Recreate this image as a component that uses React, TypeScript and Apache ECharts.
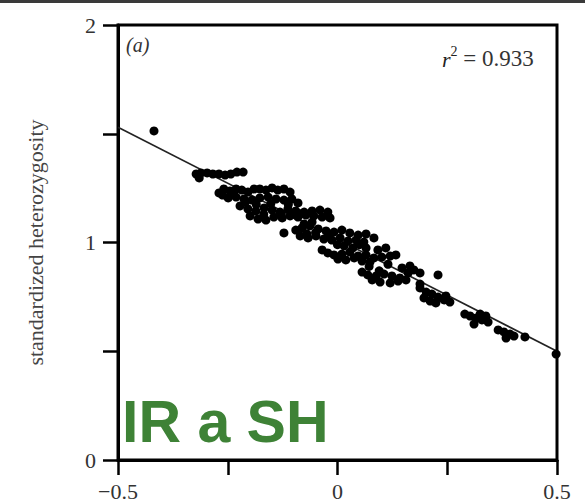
import React, { useEffect, useRef } from "react";
import * as echarts from "echarts";

const xTicks = [-0.5, -0.25, 0, 0.25, 0.5];
const xTickLabels = ["\u22120.5", "", "0", "", "0.5"];
const yTickLabels = ["0", "", "1", "", "2"];

const pointsX = [
  -0.418,
  -0.322, -0.311, -0.297, -0.284, -0.27, -0.256, -0.243, -0.229, -0.215, -0.315,
  -0.27, -0.259, -0.245, -0.231, -0.218, -0.204, -0.19, -0.177, -0.163, -0.149, -0.136, -0.122, -0.108,
  -0.249, -0.231, -0.213, -0.195, -0.177, -0.158, -0.14, -0.122, -0.104, -0.09,
  -0.222, -0.204, -0.186, -0.167, -0.149, -0.131, -0.113, -0.095, -0.076, -0.058, -0.04, -0.022,
  -0.199, -0.181, -0.163, -0.145, -0.126, -0.108, -0.09, -0.072, -0.054, -0.035, -0.017,
  -0.122,
  -0.095, -0.081, -0.063, -0.044, -0.026, -0.008, 0.01, 0.028, 0.047, 0.065, 0.083,
  -0.085, -0.067, -0.049, -0.031, -0.013, 0.006, 0.024, 0.042, 0.06, -0.076, -0.058,
  -0.035, -0.022, -0.008, 0.01, 0.028, 0.047, 0.065, 0.083, 0.101, 0.12, 0.133,
  0.001, 0.019, 0.038, 0.056, 0.074, 0.092, 0.11, 0.065,
  0.056, 0.069, 0.088, 0.106, 0.124, 0.142, 0.161, 0.174, 0.188,
  0.079, 0.097, 0.12, 0.138, 0.156, 0.147, 0.165,
  0.229,
  0.188, 0.202, 0.215, 0.229, 0.243, 0.256, 0.197, 0.211, 0.224, 0.247, 0.188,
  0.29, 0.302, 0.316, 0.329, 0.343, 0.325, 0.311, 0.338,
  0.366, 0.379, 0.393, 0.402, 0.384,
  0.427, 0.498,
  -0.262, -0.238, -0.21, -0.185, -0.168, -0.152, -0.128, -0.112, -0.1, -0.083,
  -0.07, -0.05, -0.02, 0.0, 0.015, 0.035, 0.05, 0.072, 0.095, 0.115,
];

const pointsY = [
  1.513,
  1.315, 1.32, 1.32, 1.315, 1.315, 1.31, 1.315, 1.324, 1.324, 1.297,
  1.228, 1.246, 1.237, 1.246, 1.241, 1.232, 1.246, 1.246, 1.241, 1.251, 1.241, 1.246, 1.232,
  1.205, 1.209, 1.2, 1.195, 1.205, 1.209, 1.2, 1.195, 1.2, 1.182,
  1.168, 1.154, 1.145, 1.159, 1.149, 1.14, 1.154, 1.145, 1.14, 1.145, 1.149, 1.14,
  1.122, 1.108, 1.103, 1.117, 1.113, 1.122, 1.117, 1.126, 1.122, 1.117, 1.113,
  1.044,
  1.057, 1.067, 1.076, 1.062, 1.053, 1.048, 1.057, 1.044, 1.034, 1.039, 1.021,
  1.03, 1.021, 1.03, 1.016, 1.011, 1.021, 1.007, 1.011, 1.002, 1.085, 1.094,
  0.966, 0.952, 0.943, 0.947, 0.956, 0.938, 0.943, 0.929, 0.933, 0.938, 0.943,
  0.924, 0.92, 0.929, 0.915, 0.91, 0.966, 0.975, 0.975,
  0.864, 0.851, 0.846, 0.855, 0.846, 0.837, 0.86, 0.874, 0.86,
  0.828, 0.818, 0.814, 0.823, 0.828, 0.883, 0.892,
  0.851,
  0.791, 0.772, 0.763, 0.749, 0.736, 0.726, 0.745, 0.731, 0.722, 0.754, 0.809,
  0.671, 0.662, 0.653, 0.644, 0.634, 0.671, 0.625, 0.662,
  0.598, 0.589, 0.579, 0.57, 0.561,
  0.566, 0.487,
  1.218, 1.222, 1.185, 1.175, 1.13, 1.178, 1.13, 1.175, 1.13, 1.132,
  1.04, 1.045, 1.035, 0.99, 0.985, 0.975, 0.99, 0.89, 0.87, 0.9,
];

const fitX = [-0.5, 0.5];
const fitY = [1.53, 0.5];

const SERIF = "'Liberation Serif', 'DejaVu Serif', serif";

export default function App() {
  const ref = useRef<HTMLDivElement>(null);

  useEffect(() => {
    if (!ref.current) return;
    const chart = echarts.init(ref.current, null, { renderer: "svg" });
    const scatterData = pointsX.map((x, i) => [x, pointsY[i]]);
    const lineData = fitX.map((x, i) => [x, fitY[i]]);
    const xLabel = (v: number) => {
      const idx = xTicks.findIndex((t) => Math.abs(t - v) < 1e-9);
      return idx >= 0 ? xTickLabels[idx] : "";
    };
    const yLabel = (v: number) => {
      const idx = Math.round(v * 2);
      return Math.abs(v * 2 - idx) < 1e-9 && idx >= 0 && idx < yTickLabels.length ? yTickLabels[idx] : "";
    };
    chart.setOption({
      animation: false,
      backgroundColor: "#ffffff",
      grid: {
        left: 118,
        right: 28,
        top: 25,
        bottom: 42,
        show: true,
        borderColor: "#000",
        borderWidth: 3,
        backgroundColor: "transparent",
      },
      xAxis: {
        type: "value",
        min: -0.5,
        max: 0.5,
        interval: 0.25,
        axisLine: { show: true, onZero: false, lineStyle: { color: "#000", width: 3 } },
        axisTick: { show: true, inside: false, length: 15, lineStyle: { color: "#000", width: 2.5 } },
        splitLine: { show: false },
        axisLabel: {
          formatter: xLabel,
          margin: 20,
          color: "#333",
          fontFamily: SERIF,
          fontSize: 22,
          showMinLabel: true,
          showMaxLabel: true,
        },
      },
      yAxis: {
        type: "value",
        min: 0,
        max: 2,
        interval: 0.5,
        name: "standardized heterozygosity",
        nameLocation: "middle",
        nameGap: 72,
        nameRotate: 90,
        nameTextStyle: { color: "#444", fontFamily: SERIF, fontSize: 22 },
        axisLine: { show: true, onZero: false, lineStyle: { color: "#000", width: 3 } },
        axisTick: { show: true, inside: false, length: 15, lineStyle: { color: "#000", width: 2.5 } },
        splitLine: { show: false },
        axisLabel: {
          formatter: yLabel,
          margin: 22,
          color: "#333",
          fontFamily: SERIF,
          fontSize: 22,
          showMinLabel: true,
          showMaxLabel: true,
        },
      },
      graphic: [
        { type: "rect", left: 0, top: 0, shape: { width: 585, height: 3 }, style: { fill: "#3a3a3a" } },
        {
          type: "text",
          left: 126,
          top: 35,
          style: { text: "(a)", fontFamily: SERIF, fontStyle: "italic", fontSize: 20, fill: "#333" },
        },
        {
          type: "text",
          left: 442,
          top: 44,
          style: {
            text: "{r|r}{s|2}{n| = 0.933}",
            rich: {
              r: { fontFamily: SERIF, fontStyle: "italic", fontSize: 22, fill: "#222", verticalAlign: "bottom" },
              s: { fontFamily: SERIF, fontSize: 14, fill: "#222", verticalAlign: "top", padding: [0, 0, 12, 0] },
              n: { fontFamily: SERIF, fontSize: 23, fill: "#333", verticalAlign: "bottom" },
            },
          },
        },
        {
          type: "text",
          left: 122,
          top: 392,
          style: {
            text: "IR a SH",
            fontFamily: "'Liberation Sans', Arial, sans-serif",
            fontWeight: "bold",
            fontSize: 59,
            fill: "#3e8236",
          },
        },
      ],
      series: [
        {
          type: "line",
          data: lineData,
          showSymbol: false,
          symbol: "none",
          lineStyle: { color: "#222", width: 1.6 },
          z: 2,
        },
        {
          type: "scatter",
          data: scatterData,
          symbol: "circle",
          symbolSize: 9,
          itemStyle: { color: "#000", opacity: 1 },
          z: 3,
        },
      ],
    });
    return () => chart.dispose();
  }, []);

  return (
    <div
      ref={ref}
      style={{ position: "fixed", left: 0, top: 0, width: 585, height: 502, background: "#fff" }}
    />
  );
}
